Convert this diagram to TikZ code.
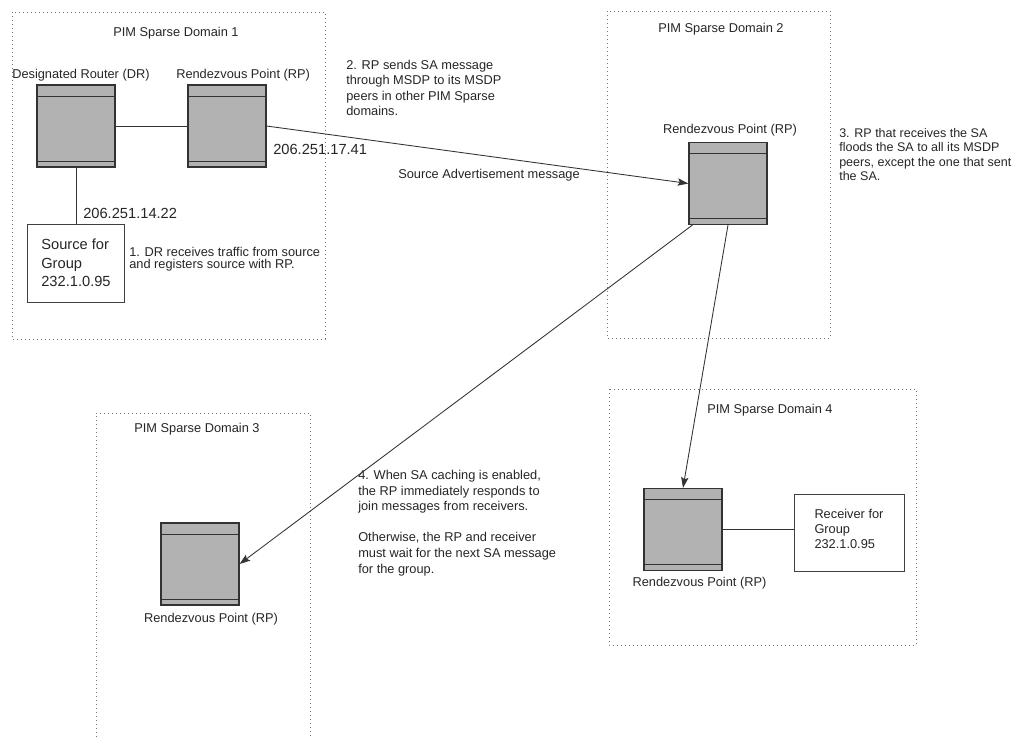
\documentclass[tikz,border=0pt]{standalone}
\usepackage{fontspec}
\setmainfont{Liberation Sans}
\usetikzlibrary{arrows.meta}
\begin{document}
\begin{tikzpicture}[x=0.75pt,y=-0.75pt,
  domainbox/.style={draw=black!55, line width=0.6pt, dash pattern=on 0.6pt off 2.4pt},
  router/.style={draw=black!80, fill=black!30, line width=0.9pt, minimum width=58.5pt, minimum height=61.5pt, inner sep=0pt,
    path picture={
      \draw[black!80,line width=0.7pt] ([yshift=-8.25pt]path picture bounding box.north west) -- ([yshift=-8.25pt]path picture bounding box.north east);
      \draw[black!80,line width=0.7pt] ([yshift=4.5pt]path picture bounding box.south west) -- ([yshift=4.5pt]path picture bounding box.south east);
    }},
  small/.style={font=\fontsize{9.6}{11.3}\selectfont, inner sep=0pt, text=black!85},
  big/.style={font=\fontsize{11}{14}\selectfont, inner sep=0pt, text=black!85},
  box/.style={draw=black!75, line width=0.7pt, fill=white, align=left},
  link/.style={draw=black!80, line width=0.65pt},
  arr/.style={-{Stealth[length=8pt,width=5.5pt,inset=1.5pt]}}
]
\fill[white] (0,0) rectangle (1015,738);
\useasboundingbox (0,0) rectangle (1015,738);

% domains
\draw[domainbox] (12,12) rectangle (325,339);
\draw[domainbox] (607,11) rectangle (830,338);
\draw[domainbox] (96,745) -- (96,413) -- (310,413) -- (310,745);
\draw[domainbox] (609,389) rectangle (916,645);

\node[small] (d1) at (176,33) {PIM Sparse Domain 1};
\node[small] (d2) at (721,29) {PIM Sparse Domain 2};
\node[small] (d3) at (197,429) {PIM Sparse Domain 3};
\node[small] (d4) at (770,410) {PIM Sparse Domain 4};

% routers
\node[router] (dr) at (76,126) {};
\node[router] (rp1) at (227,126) {};
\node[router] (rp2) at (728,183.5) {};
\node[router] (rp3) at (200,564) {};
\node[router] (rp4) at (683,529.5) {};

\node[small,anchor=west] (drl) at (12,75) {Designated Router (DR)};
\node[small,anchor=west] (rp1l) at (176,75) {Rendezvous Point (RP)};
\node[small] (rp2l) at (730,130) {Rendezvous Point (RP)};
\node[small] (rp3l) at (211,619) {Rendezvous Point (RP)};
\node[small] (rp4l) at (699.5,583) {Rendezvous Point (RP)};

% boxes
\node[box,big,minimum width=72.75pt,minimum height=58.5pt] (src) at (76,263) {Source for\\Group\\232.1.0.95};
\node[box,small,minimum width=82.5pt,minimum height=57.75pt,text depth=6pt] (rcv) at (849,532.5) {Receiver for\\Group\\232.1.0.95};

\node[big,anchor=west] (ip1) at (273,149) {206.251.17.41};
\node[big,anchor=west] (ip2) at (83,213) {206.251.14.22};

% annotations
\node[small,anchor=west,align=left,font=\fontsize{9.6}{9.2}\selectfont] (t1) at (129,259) {1. DR receives traffic from source\\and registers source with RP.};
\node[small,anchor=west,align=left,font=\fontsize{9.6}{11.5}\selectfont] (t2) at (346,88) {2. RP sends SA message\\through MSDP to its MSDP\\peers in other PIM Sparse\\domains.};
\node[small,anchor=west] (sam) at (398,175) {Source Advertisement message};
\node[small,anchor=west,align=left,font=\fontsize{9.4}{10.8}\selectfont] (t3) at (839,154.5) {3. RP that receives the SA\\floods the SA to all its MSDP\\peers, except the one that sent\\the SA.};
\node[small,anchor=west,align=left,font=\fontsize{9.6}{11.7}\selectfont] (t4) at (358,523) {4. When SA caching is enabled,\\the RP immediately responds to\\join messages from receivers.\\[11.7pt]Otherwise, the RP and receiver\\must wait for the next SA message\\for the group.};

% connectors
\draw[link] (dr.east) -- (rp1.west);
\draw[link] (dr.south) -- (src.north);
\draw[link,arr] (rp1.east) -- (rp2.west);
\draw[link,arr] ([xshift=3pt]rp2.south west) -- (rp3.east);
\draw[link,arr] (rp2.south) -- (rp4.north);
\draw[link] (rp4.east) -- (rp4.east -| rcv.west);
\end{tikzpicture}
\end{document}
